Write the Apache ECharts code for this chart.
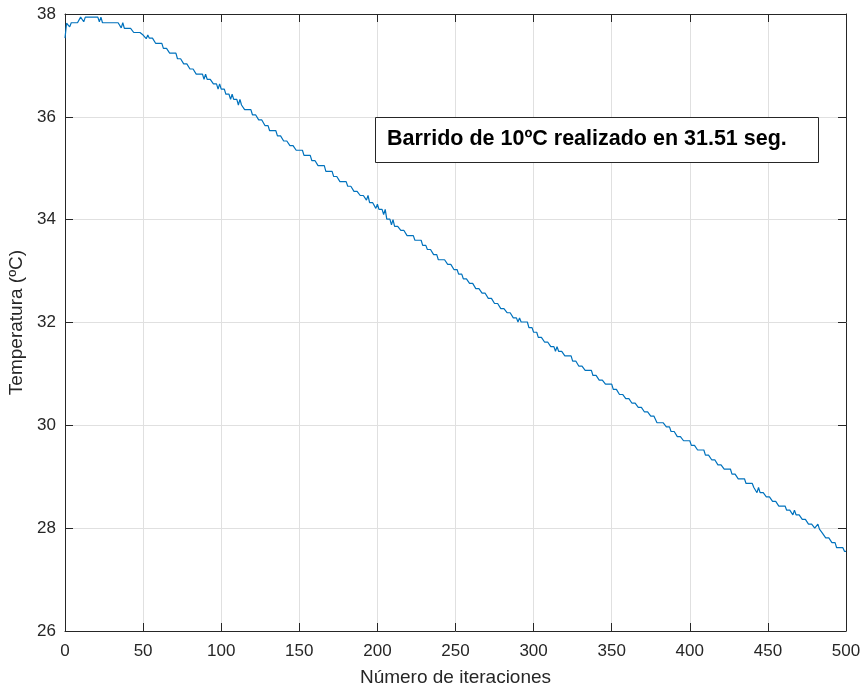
<!DOCTYPE html>
<html>
<head>
<meta charset="utf-8">
<script src="https://cdn.jsdelivr.net/npm/echarts@6/dist/echarts.min.js"></script>
<style>
html,body{margin:0;padding:0;background:#ffffff;}
#chart{width:864px;height:686px;}
</style>
</head>
<body>
<div id="chart"></div>
<script>
// Staircase readings: temperature level held from each start iteration onward
const iterStart = [
  0,1,3,4,10,12,13,22,23,24,
  36,37,38,44,50,52,53,54,58,63,
  67,72,76,80,84,89,90,91,95,98,
  99,100,103,106,107,108,111,112,113,115,
  120,124,128,131,136,140,144,148,153,158,
  162,167,172,176,181,185,189,193,194,195,
  199,200,201,204,205,206,209,210,211,215,
  219,224,229,232,236,239,245,249,252,255,
  259,263,267,271,275,279,283,287,290,291,
  292,297,300,303,307,311,314,315,316,320,
  325,329,333,338,342,346,351,355,359,363,
  367,371,375,379,385,388,392,396,401,405,
  410,414,418,422,427,431,436,441,443,444,
  445,449,453,457,462,466,467,468,472,476,
  480,482,483,485,487,491,494,499
];
const tempLevel = [
  37.53,37.82,37.75,37.83,37.94,37.85,37.94,37.85,37.94,37.83,
  37.73,37.83,37.72,37.64,37.59,37.52,37.59,37.53,37.43,37.33,
  37.24,37.13,37.03,36.93,36.83,36.73,36.83,36.73,36.64,36.54,
  36.64,36.54,36.44,36.34,36.44,36.34,36.23,36.34,36.23,36.14,
  36.04,35.94,35.83,35.73,35.63,35.53,35.44,35.35,35.25,35.15,
  35.05,34.94,34.84,34.74,34.65,34.55,34.47,34.38,34.47,34.33,
  34.22,34.30,34.20,34.10,34.20,34.01,33.90,34.00,33.87,33.79,
  33.69,33.60,33.50,33.42,33.32,33.22,33.13,33.03,32.94,32.85,
  32.76,32.66,32.57,32.47,32.37,32.27,32.19,32.09,32.01,32.09,
  32.01,31.90,31.81,31.71,31.62,31.53,31.44,31.53,31.44,31.35,
  31.25,31.15,31.07,30.97,30.88,30.80,30.70,30.60,30.52,30.43,
  30.35,30.26,30.18,30.05,29.97,29.88,29.78,29.70,29.61,29.52,
  29.42,29.33,29.23,29.15,29.05,28.96,28.87,28.79,28.69,28.79,
  28.69,28.61,28.52,28.43,28.35,28.26,28.35,28.26,28.17,28.08,
  28.00,28.08,27.98,27.90,27.81,27.72,27.62,27.55
];
const lastIter = 500;
const xRange = [0, 500];
const xStep = 50;
const yRange = [26, 38];
const yStep = 2;
const xTitle = 'Número de iteraciones';
const yTitle = 'Temperatura (ºC)';
const noteText = 'Barrido de 10ºC realizado en 31.51 seg.';

// run-length decode: one sample per iteration
const lineData = [];
let k = 0;
for (let i = 0; i <= lastIter; i++) {
  while (k + 1 < iterStart.length && iterStart[k + 1] <= i) k++;
  lineData.push([i, tempLevel[k]]);
}

const axisColor = '#262626';
const font = '"Liberation Sans", Arial, Helvetica, sans-serif';

const chart = echarts.init(document.getElementById('chart'), null, {renderer: 'canvas'});
const baseAxis = {
  type: 'value',
  axisLine: {show: true, onZero: false, lineStyle: {color: axisColor, width: 1}},
  axisTick: {show: true, inside: true, length: 8, lineStyle: {color: axisColor, width: 1}},
  splitLine: {show: false}
};
chart.setOption({
  animation: false,
  backgroundColor: '#ffffff',
  grid: {left: 65, right: 18, top: 14, bottom: 55, containLabel: false, outerBoundsMode: 'none'},
  xAxis: [
    Object.assign({}, baseAxis, {
      position: 'bottom', min: xRange[0], max: xRange[1], interval: xStep,
      axisLabel: {show: true, color: axisColor, fontSize: 17, fontFamily: font, margin: 12},
      splitLine: {show: true, lineStyle: {color: '#e0e0e0', width: 1}},
      name: xTitle, nameLocation: 'middle', nameGap: 37,
      nameTextStyle: {color: axisColor, fontSize: 19, fontFamily: font}
    }),
    Object.assign({}, baseAxis, {
      position: 'top', min: xRange[0], max: xRange[1], interval: xStep,
      axisLabel: {show: false}
    })
  ],
  yAxis: [
    Object.assign({}, baseAxis, {
      position: 'left', min: yRange[0], max: yRange[1], interval: yStep,
      axisLabel: {show: true, color: axisColor, fontSize: 17, fontFamily: font, margin: 9},
      splitLine: {show: true, lineStyle: {color: '#e0e0e0', width: 1}},
      name: yTitle, nameLocation: 'middle', nameGap: 30,
      nameTextStyle: {color: axisColor, fontSize: 19, fontFamily: font}
    }),
    Object.assign({}, baseAxis, {
      position: 'right', min: yRange[0], max: yRange[1], interval: yStep,
      axisLabel: {show: false}
    })
  ],
  series: [{
    type: 'line',
    xAxisIndex: 0, yAxisIndex: 0,
    data: lineData,
    symbol: 'none', showSymbol: false,
    lineStyle: {color: '#0072BD', width: 1.2},
    emphasis: {disabled: true},
    z: 3
  }],
  graphic: [
    {
      type: 'rect', z: 100,
      shape: {x: 375.5, y: 117.5, width: 443, height: 45},
      style: {fill: '#ffffff', stroke: axisColor, lineWidth: 1}
    },
    {
      type: 'text', z: 101,
      x: 387, y: 139,
      style: {
        text: noteText, fill: '#000000',
        font: 'bold 21.5px "Liberation Sans", Arial, sans-serif',
        verticalAlign: 'middle', align: 'left'
      }
    }
  ]
});
</script>
</body>
</html>
